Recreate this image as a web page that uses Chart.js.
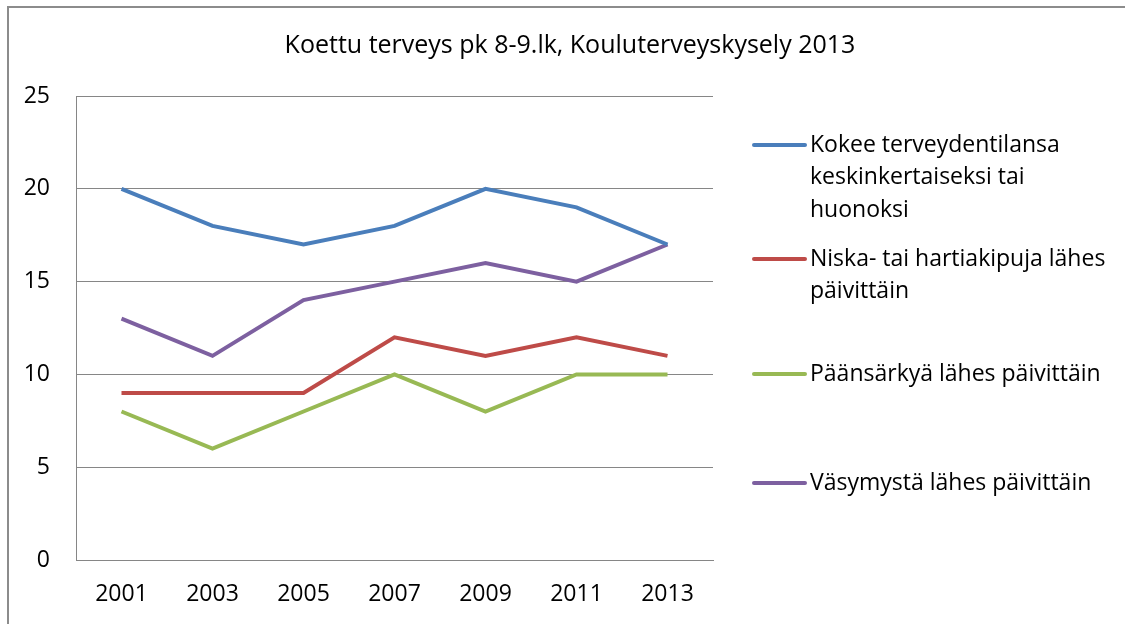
<!DOCTYPE html>
<html>
<head>
<meta charset="utf-8">
<script src="https://cdn.jsdelivr.net/npm/chart.js@4.4.1/dist/chart.umd.min.js"></script>
<style>
  html, body { margin: 0; padding: 0; background: #fff; }
  #wrap { width: 1125px; height: 624px; }
</style>
</head>
<body>
<div id="wrap"><canvas id="chart" width="1125" height="624"></canvas></div>
<script>
const years = ["2001", "2003", "2005", "2007", "2009", "2011", "2013"];
const terveydentila = [20, 18, 17, 18, 20, 19, 17];
const niskaKipu = [9, 9, 9, 12, 11, 12, 11];
const paansarky = [8, 6, 8, 10, 8, 10, 10];
const vasymys = [13, 11, 14, 15, 16, 15, 17];
const seriesNames = [
  "Kokee terveydentilansa keskinkertaiseksi tai huonoksi",
  "Niska- tai hartiakipuja lähes päivittäin",
  "Päänsärkyä lähes päivittäin",
  "Väsymystä lähes päivittäin"
];
const yTicks = [0, 5, 10, 15, 20, 25];
const chartTitle = "Koettu terveys pk 8-9.lk, Kouluterveyskysely 2013";

const FONT = "Open Sans";
const colors = ["#4a7ebb", "#be4b48", "#98b954", "#7d60a0"];

// title, frame and the right-hand legend
const decorPlugin = {
  id: "decor",
  beforeDraw(chart) {
    const ctx = chart.ctx;
    ctx.save();
    ctx.strokeStyle = "#8c8c8c";
    ctx.lineWidth = 2;
    ctx.strokeRect(8, 7, 1200, 700);
    ctx.restore();
  },
  afterDraw(chart) {
    const ctx = chart.ctx;
    ctx.save();
    ctx.fillStyle = "#000";
    ctx.font = "25px '" + FONT + "'";
    ctx.textAlign = "center";
    ctx.textBaseline = "middle";
    ctx.fillText(chartTitle, 570, 46);

    const firstLineY = [145, 259, 374, 483];
    const textX = 810;
    const maxW = 306;
    ctx.font = "23px '" + FONT + "'";
    ctx.textAlign = "left";
    chart.data.datasets.forEach((ds, i) => {
      const words = ds.label.split(" ");
      const lines = [];
      let cur = "";
      words.forEach(w => {
        const t = cur ? cur + " " + w : w;
        if (ctx.measureText(t).width > maxW && cur) { lines.push(cur); cur = w; }
        else cur = t;
      });
      lines.push(cur);
      const y0 = firstLineY[i];
      ctx.strokeStyle = ds.borderColor;
      ctx.lineWidth = 4;
      ctx.lineCap = "round";
      ctx.beginPath();
      ctx.moveTo(754, y0);
      ctx.lineTo(805, y0);
      ctx.stroke();
      lines.forEach((l, k) => ctx.fillText(l, textX, y0 + k * 32.5));
    });
    ctx.restore();
  }
};

const allSeries = [terveydentila, niskaKipu, paansarky, vasymys];

new Chart(document.getElementById("chart"), {
  type: "line",
  data: {
    labels: years,
    datasets: allSeries.map((s, i) => ({
      label: seriesNames[i],
      data: s,
      borderColor: colors[i],
      backgroundColor: colors[i],
      borderWidth: 4,
      pointRadius: 0,
      tension: 0,
      fill: false
    }))
  },
  options: {
    responsive: false,
    animation: false,
    layout: { padding: { left: 0, top: 96, right: 412, bottom: 0 } },
    plugins: {
      legend: { display: false },
      title: { display: false },
      tooltip: { enabled: false }
    },
    scales: {
      x: {
        offset: true,
        grid: { display: false, drawTicks: false },
        border: { display: true, color: "#868686", width: 1 },
        ticks: { color: "#000", font: { family: FONT, size: 23 }, padding: 21, maxRotation: 0 },
        afterFit(scale) { scale.height = 64; }
      },
      y: {
        min: 0,
        max: 25,
        afterBuildTicks(scale) { scale.ticks = yTicks.map(v => ({ value: v })); },
        grid: { color: "#868686", lineWidth: 1, drawTicks: false },
        border: { display: true, color: "#868686", width: 1 },
        ticks: { color: "#000", font: { family: FONT, size: 23 }, padding: 26 },
        afterFit(scale) { scale.width = 76; }
      }
    }
  },
  plugins: [decorPlugin]
});
</script>
</body>
</html>
